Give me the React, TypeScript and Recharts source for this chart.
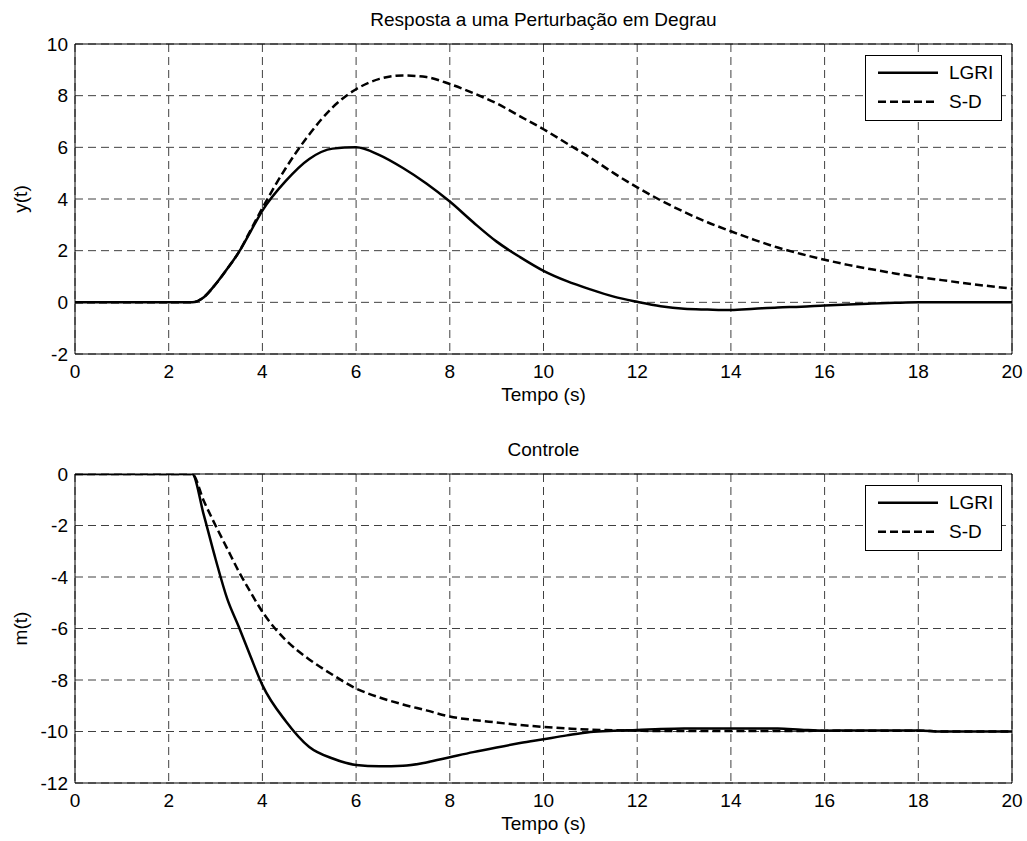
import React from "react";
import { LineChart, Line, XAxis, YAxis, CartesianGrid, ReferenceArea, Legend } from "recharts";

const FONT = "'Liberation Sans', Arial, Helvetica, sans-serif";

// tempo (s)
const time = [
  0, 2.5, 2.75, 3, 3.25, 3.5, 3.75, 4, 4.5, 5, 5.5, 6, 6.5, 7, 7.5, 8, 8.5, 9, 9.5, 10,
  10.5, 11, 11.5, 12, 12.5, 13, 13.5, 14, 14.5, 15, 15.5, 16, 16.5, 17, 17.5, 18, 18.5, 19, 19.5, 20,
];

// y(t)
const yLgri = [
  0, 0, 0.2, 0.7, 1.3, 1.95, 2.75, 3.55, 4.7, 5.55, 5.95, 6.0, 5.7, 5.2, 4.6, 3.9, 3.1, 2.35, 1.75, 1.22,
  0.82, 0.5, 0.22, 0.02, -0.15, -0.25, -0.28, -0.3, -0.25, -0.2, -0.17, -0.12, -0.08, -0.05, -0.02, 0, 0, 0, 0, 0,
];
const ySd = [
  0, 0, 0.2, 0.7, 1.3, 1.95, 2.8, 3.65, 5.2, 6.5, 7.55, 8.25, 8.65, 8.78, 8.72, 8.45, 8.1, 7.7, 7.2, 6.7,
  6.15, 5.6, 5.0, 4.45, 3.95, 3.5, 3.1, 2.75, 2.42, 2.12, 1.87, 1.65, 1.45, 1.28, 1.12, 0.98, 0.86, 0.74, 0.63, 0.53,
];

// m(t)
const mLgri = [
  0, 0, -1.6, -3.3, -4.85, -5.95, -7.1, -8.2, -9.6, -10.6, -11.05, -11.3, -11.35, -11.33, -11.2, -11.0, -10.8, -10.62, -10.45, -10.3,
  -10.15, -10.02, -9.97, -9.94, -9.9, -9.88, -9.88, -9.88, -9.88, -9.88, -9.93, -9.97, -9.96, -9.96, -9.96, -9.96, -10, -10, -10, -10,
];
const mSd = [
  0, 0, -1.05, -2.0, -2.9, -3.8, -4.6, -5.35, -6.45, -7.2, -7.8, -8.33, -8.68, -8.95, -9.18, -9.42, -9.55, -9.65, -9.75, -9.82,
  -9.88, -9.93, -9.95, -9.97, -9.98, -9.98, -9.98, -9.98, -9.98, -9.98, -9.98, -9.97, -9.97, -9.97, -9.97, -9.97, -10, -10, -10, -10,
];

const xTicks = [0, 2, 4, 6, 8, 10, 12, 14, 16, 18, 20];
const yTicksTop = [-2, 0, 2, 4, 6, 8, 10];
const yTicksBottom = [-12, -10, -8, -6, -4, -2, 0];

const seriesNames = ["LGRI", "S-D"];
const DASH = "8 4";

const topData = time.map((t, i) => ({ t, lgri: yLgri[i], sd: ySd[i] }));
const bottomData = time.map((t, i) => ({ t, lgri: mLgri[i], sd: mSd[i] }));

const textStyle = { fill: "#000", fontSize: 19, fontFamily: FONT };

const LegendBox = () => (
  <svg width={137} height={66} style={{ display: "block" }}>
    <rect x={0.5} y={0.5} width={136} height={65} fill="#fff" stroke="#000" />
    {seriesNames.map((name, i) => {
      const y = 17.7 + i * 29;
      return (
        <g key={name}>
          <line
            x1={13}
            x2={73}
            y1={y}
            y2={y}
            stroke="#000"
            strokeWidth={2.5}
            strokeDasharray={i === 1 ? DASH : undefined}
          />
          <text x={84} y={y} dy="0.355em" {...textStyle}>
            {name}
          </text>
        </g>
      );
    })}
  </svg>
);

function Panel({
  data,
  yDomain,
  yTicks,
  yLabel,
  height,
  margin,
  legendTop,
}: {
  data: { t: number; lgri: number; sd: number }[];
  yDomain: [number, number];
  yTicks: number[];
  yLabel: string;
  height: number;
  margin: { top: number; right: number; bottom: number; left: number };
  legendTop: number;
}) {
  return (
    <LineChart width={1027} height={height} data={data} margin={margin}>
      <CartesianGrid stroke="#404040" strokeDasharray="8 5" strokeWidth={1} />
      <XAxis
        dataKey="t"
        type="number"
        domain={[0, 20]}
        ticks={xTicks}
        interval={0}
        allowDataOverflow
        tickLine={false}
        axisLine={false}
        height={30}
        tickMargin={4.5}
        tick={textStyle}
        label={{ value: "Tempo (s)", position: "bottom", offset: 4, ...textStyle }}
      />
      <YAxis
        type="number"
        domain={yDomain}
        ticks={yTicks}
        interval={0}
        allowDataOverflow
        tickLine={false}
        axisLine={false}
        width={60}
        tickMargin={1}
        tick={textStyle}
        label={{
          value: yLabel,
          angle: -90,
          position: "insideLeft",
          offset: 5,
          style: { textAnchor: "middle" },
          ...textStyle,
        }}
      />
      <Line
        type="monotone"
        dataKey="lgri"
        name="LGRI"
        stroke="#000"
        strokeWidth={2.5}
        dot={false}
        activeDot={false}
        isAnimationActive={false}
      />
      <Line
        type="monotone"
        dataKey="sd"
        name="S-D"
        stroke="#000"
        strokeWidth={2.5}
        strokeDasharray={DASH}
        dot={false}
        activeDot={false}
        isAnimationActive={false}
      />
      <ReferenceArea
        x1={0}
        x2={20}
        y1={yDomain[0]}
        y2={yDomain[1]}
        fill="none"
        fillOpacity={0}
        stroke="#000"
        strokeWidth={1}
        ifOverflow="visible"
      />
      <Legend
        layout="vertical"
        align="center"
        verticalAlign="middle"
        wrapperStyle={{ left: 865, top: legendTop, width: 137, height: 66 }}
        content={() => <LegendBox />}
      />
    </LineChart>
  );
}

const titleStyle: React.CSSProperties = {
  position: "absolute",
  left: 75,
  width: 937,
  textAlign: "center",
  fontFamily: FONT,
  fontSize: 19,
  lineHeight: "22px",
  color: "#000",
};

export default function App() {
  return (
    <div
      style={{
        position: "absolute",
        left: 0,
        top: 0,
        width: 1027,
        height: 841,
        background: "#fff",
        overflow: "hidden",
      }}
    >
      <div style={{ ...titleStyle, top: 9 }}>Resposta a uma Perturbação em Degrau</div>
      <div style={{ ...titleStyle, top: 439 }}>Controle</div>
      <div style={{ position: "absolute", left: 0, top: 0 }}>
        <Panel
          data={topData}
          yDomain={[-2, 10]}
          yTicks={yTicksTop}
          yLabel="y(t)"
          height={420}
          margin={{ top: 44, right: 15, bottom: 36, left: 15 }}
          legendTop={55}
        />
      </div>
      <div style={{ position: "absolute", left: 0, top: 420 }}>
        <Panel
          data={bottomData}
          yDomain={[-12, 0]}
          yTicks={yTicksBottom}
          yLabel="m(t)"
          height={421}
          margin={{ top: 54, right: 15, bottom: 28, left: 15 }}
          legendTop={65}
        />
      </div>
    </div>
  );
}
